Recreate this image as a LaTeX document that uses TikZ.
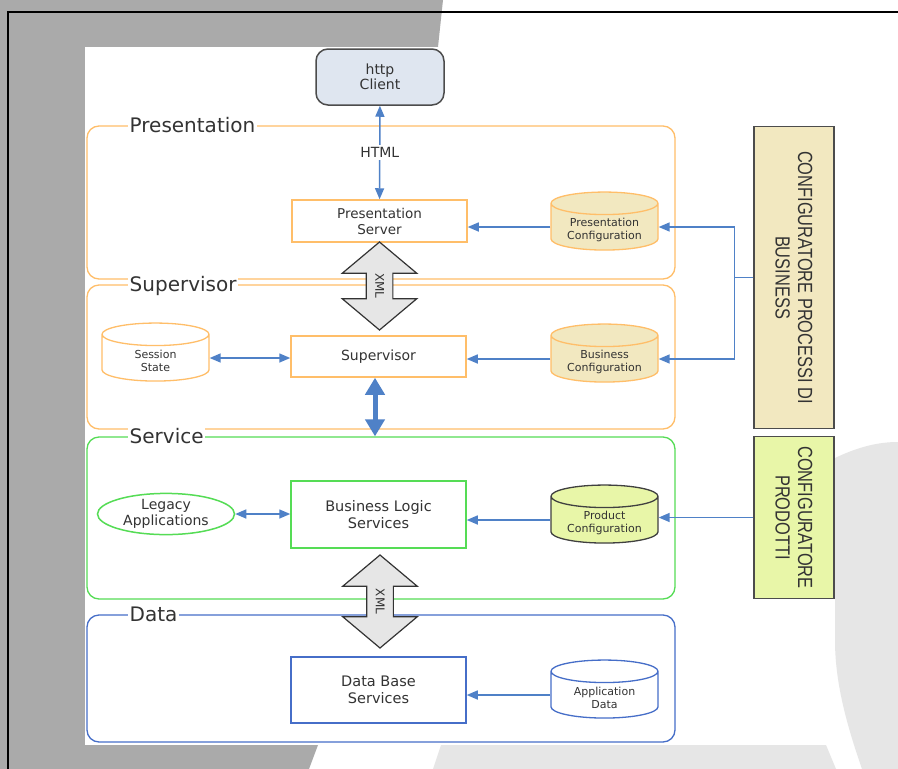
\documentclass[tikz,border=0pt]{standalone}
\usepackage{fontspec}
\setmainfont{DejaVu Sans}
\newfontfamily\cfgfont[FakeStretch=0.8]{Liberation Sans}
\usetikzlibrary{positioning,shapes.geometric,shapes.arrows,arrows.meta,calc}

\definecolor{txtgray}{RGB}{51,51,51}
\definecolor{layorange}{RGB}{255,190,105}
\definecolor{laygreen}{RGB}{85,220,85}
\definecolor{layblue}{RGB}{70,110,200}
\definecolor{linkblue}{RGB}{79,129,199}
\definecolor{tanfill}{RGB}{242,232,192}
\definecolor{limefill}{RGB}{232,246,168}
\definecolor{clientfill}{RGB}{223,230,240}
\definecolor{xmlfill}{RGB}{230,230,230}
\definecolor{bgdark}{RGB}{170,170,170}
\definecolor{bglight}{RGB}{230,230,230}

\newcommand{\fsz}[2]{\fontsize{#1}{#2}\selectfont}

\tikzset{
  layer/.style={draw=#1, line width=1.3pt, rounded corners=12pt, inner sep=0pt},
  layerlabel/.style={fill=white, inner sep=1.5pt, text=txtgray, font=\fsz{20}{24}, anchor=base west},
  unit/.style={draw=#1, line width=1.5pt, fill=white, inner sep=0pt, minimum width=175pt, align=center, text=txtgray},
  store/.style={cylinder, shape border rotate=90, aspect=0.3, draw=#1, line width=1.3pt, inner sep=0pt,
    minimum width=107pt, minimum height=58pt, node contents={\hspace*{75pt}}},
  storetext/.style={yshift=-3pt, align=center, text=txtgray, font=\fsz{11}{13}},
  conn/.style={draw=linkblue, line width=1.5pt, -{Triangle[length=11pt,width=9pt]}},
  dconn/.style={conn, {Triangle[length=11pt,width=9pt]}-{Triangle[length=11pt,width=9pt]}},
  bigconn/.style={draw=linkblue, line width=5pt, {Triangle[length=17pt,width=19pt]}-{Triangle[length=17pt,width=19pt]}},
  xmlarrow/.style={double arrow, rotate=-90, draw=black!80, fill=xmlfill, line width=1.2pt,
    double arrow tip angle=100, double arrow head extend=24pt, minimum width=74pt, minimum height=#1,
    text height=8.5pt, text depth=0pt, inner ysep=8.5pt, inner xsep=0pt, font=\fsz{12}{14}, text=txtgray},
  cfgbox/.style={draw=black!70, fill=#1, line width=1.3pt, minimum width=80pt, inner sep=0pt},
  cfgtext/.style={rotate=-90, align=center, text=txtgray, font=\cfgfont\fsz{20.5}{22.5}}
}

\begin{document}
\begin{tikzpicture}[x=1pt,y=-1pt]
  \useasboundingbox (0,0) rectangle (898,769);
  \fill[white] (0,0) rectangle (898,769);
  \fill[bgdark] (0,0) -- (443,0) -- (438,47) -- (85,47) -- (85,745) -- (318,745) -- (309,769) -- (0,769) -- cycle;
  \fill[bglight] (441,745) -- (826,745) -- (836,769) -- (433,769) -- cycle;
  \fill[bglight] (835,458) .. controls (860,446) and (880,442) .. (898,442) -- (898,769) -- (862,769)
    .. controls (845,720) and (835,680) .. (835,640) -- cycle;
  \fill[white] (85,47) rectangle (690,745);
  \draw[line width=2pt] (8,12) rectangle (910,780);

  \node[layer=layorange, minimum width=588pt, minimum height=153pt] (lpres) at (381,202.5) {};
  \node[layer=layorange, minimum width=588pt, minimum height=144pt] (lsup) at (381,357) {};
  \node[layer=laygreen, minimum width=588pt, minimum height=162pt] (lserv) at (381,518) {};
  \node[layer=layblue, minimum width=588pt, minimum height=127pt] (ldata) at (381,678.5) {};
  \node[layerlabel] (tpres) at (128,132.5) {Presentation};
  \node[layerlabel] (tsup) at (128,291) {Supervisor};
  \node[layerlabel] (tserv) at (128,443) {Service};
  \node[layerlabel] (tdata) at (128,621) {Data};

  \node[draw=black!70, fill=clientfill, line width=1.5pt, rounded corners=12pt, minimum width=128pt,
    minimum height=56pt, align=center, text=txtgray, font=\fsz{14}{15.5}] (client) at (380,77) {http\\Client};
  \node[unit=layorange, minimum height=42pt, font=\fsz{13.5}{16}] (pserver) at (379.5,221) {Presentation\\Server};
  \node[unit=layorange, minimum height=41pt, font=\fsz{14}{16}] (sup) at (378.5,356.5) {Supervisor};
  \node[unit=laygreen, minimum height=67pt, font=\fsz{14.5}{16.5}] (bls) at (378.5,514.5) {Business Logic\\Services};
  \node[unit=layblue, minimum height=66pt, font=\fsz{14.5}{16.5}] (dbs) at (378.5,690) {Data Base\\Services};
  \node[ellipse, draw=laygreen, line width=1.5pt, fill=white, inner sep=0pt, minimum width=137pt, minimum height=41pt,
    align=center, text=txtgray, font=\fsz{14}{16}] (legacy) at (166,514) {Legacy\\Applications};

  \node (session) at (155.5,358) [store=layorange, fill=white, label={[storetext]center:Session\\State}];
  \node (pcfg) at (604.5,227) [store=layorange, fill=tanfill, label={[storetext]center:Presentation\\Configuration}];
  \node (bcfg) at (604.5,359) [store=layorange, fill=tanfill, label={[storetext]center:Business\\Configuration}];
  \node (prodcfg) at (604.5,520) [store=black!75, fill=limefill, label={[storetext]center:Product\\Configuration}];
  \node (adata) at (604.5,695) [store=layblue, fill=white, label={[storetext]center:Application\\Data}];

  \node[cfgbox=tanfill, minimum height=302pt] (cproc) at (794,277.5) {};
  \node[cfgtext] (tcproc) at (cproc) {CONFIGURATORE PROCESSI DI\\BUSINESS};
  \node[cfgbox=limefill, minimum height=162pt] (cprod) at (794,517.5) {};
  \node[cfgtext] (tcprod) at (cprod) {CONFIGURATORE\\PRODOTTI};

  \node[xmlarrow=88pt] (xml1) at (379.5,286) {XML};
  \node[xmlarrow=93pt] (xml2) at (380,601.5) {XML};

  \draw[dconn] (client) -- node[fill=white, inner sep=2pt, text=txtgray, font=\fsz{14}{16}] {HTML} (pserver);
  \draw[conn] (pcfg.west) -- (pcfg.west -| pserver.east);
  \draw[conn] (bcfg.west) -- (bcfg.west -| sup.east);
  \draw[dconn] (session.east) -- (session.east -| sup.west);
  \draw[dconn] (legacy.east) -- (legacy.east -| bls.west);
  \draw[conn] (prodcfg.west) -- (prodcfg.west -| bls.east);
  \draw[conn] (adata.west) -- (adata.west -| dbs.east);
  \draw[conn] (cprod.west) -- (cprod.west -| prodcfg.east);
  \draw[draw=linkblue, line width=1.5pt] (cproc.west) -- ++(-19,0) coordinate (jn);
  \draw[conn] (jn) |- (pcfg.east);
  \draw[conn] (jn) |- (bcfg.east);
  \draw[bigconn] ([xshift=-3.5pt]sup.south) -- ([xshift=-3.5pt]sup.south |- lserv.north);
\end{tikzpicture}
\end{document}
